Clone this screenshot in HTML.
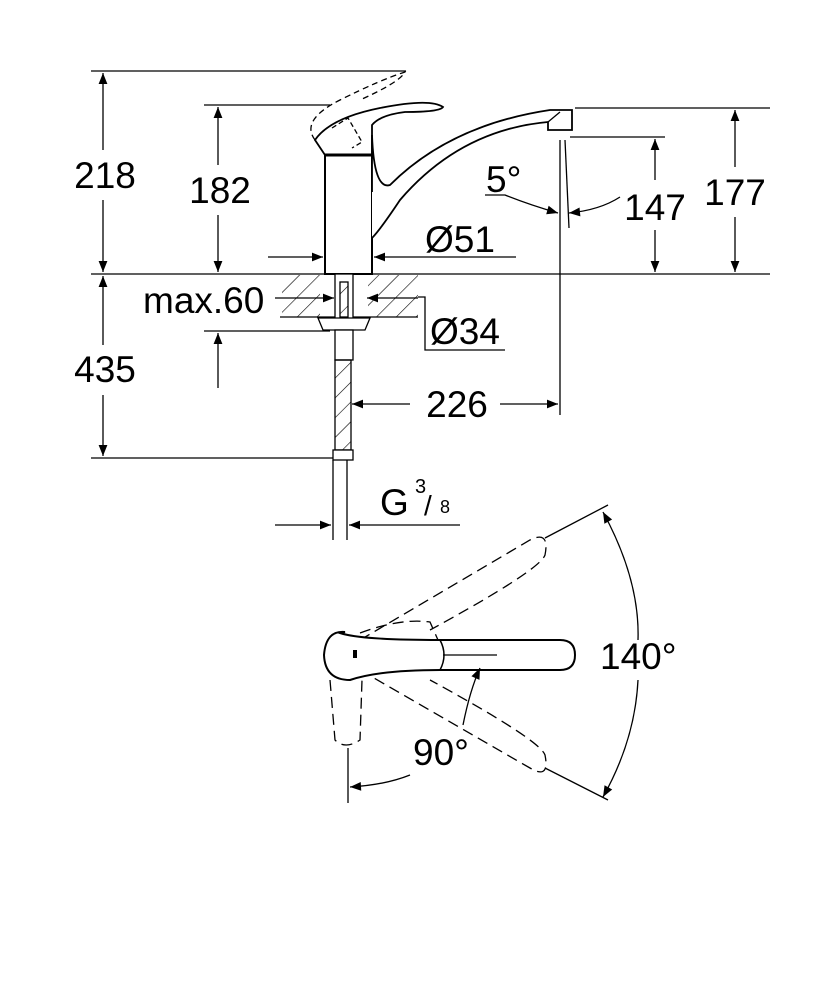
<!DOCTYPE html>
<html><head><style>body{margin:0;background:#fff}svg{display:block}text{font-family:"Liberation Sans",sans-serif;fill:#000}</style></head><body>
<svg width="834" height="1000" viewBox="0 0 834 1000" xmlns="http://www.w3.org/2000/svg">
<defs>
<marker id="a" viewBox="0 0 10 10" refX="10" refY="5" markerWidth="20" markerHeight="11" markerUnits="userSpaceOnUse" orient="auto-start-reverse"><path d="M0,1 L10,5 L0,9z" fill="#000"/></marker>
<pattern id="h" width="14" height="14" patternUnits="userSpaceOnUse" patternTransform="rotate(45)"><line x1="0" y1="0" x2="0" y2="14" stroke="#000" stroke-width="1.2"/></pattern>
</defs>
<g stroke="#000" stroke-width="1.3" fill="none">
<line x1="91" y1="71" x2="406" y2="71"/>
<line x1="204" y1="105" x2="330" y2="105"/>
<line x1="91" y1="274" x2="770" y2="274"/>
<line x1="575" y1="108" x2="770" y2="108"/>
<line x1="570" y1="137" x2="665" y2="137"/>
<line x1="91" y1="458" x2="352" y2="458"/>
<line x1="204" y1="331" x2="330" y2="331"/>
<line x1="103" y1="73" x2="103" y2="150" marker-start="url(#a)"/>
<line x1="103" y1="200" x2="103" y2="272" marker-end="url(#a)"/>
<line x1="218" y1="107" x2="218" y2="165" marker-start="url(#a)"/>
<line x1="218" y1="215" x2="218" y2="272" marker-end="url(#a)"/>
<line x1="103" y1="276" x2="103" y2="345" marker-start="url(#a)"/>
<line x1="103" y1="395" x2="103" y2="456" marker-end="url(#a)"/>
<line x1="218" y1="333" x2="218" y2="388" marker-start="url(#a)"/>
<line x1="655" y1="139" x2="655" y2="180" marker-start="url(#a)"/>
<line x1="655" y1="230" x2="655" y2="272" marker-end="url(#a)"/>
<line x1="735" y1="110" x2="735" y2="167" marker-start="url(#a)"/>
<line x1="735" y1="217" x2="735" y2="272" marker-end="url(#a)"/>
<line x1="560" y1="140" x2="560" y2="415"/>
<line x1="565" y1="140" x2="569" y2="228"/>
<line x1="352" y1="404" x2="410" y2="404" marker-start="url(#a)"/>
<line x1="500" y1="404" x2="558" y2="404" marker-end="url(#a)"/>
<path d="M485,195 L505,195 Q530,205 558,213" marker-end="url(#a)"/>
<path d="M620,197 Q600,210 569,213" marker-end="url(#a)"/>
<line x1="268" y1="257" x2="323" y2="257" marker-end="url(#a)"/>
<line x1="516" y1="257" x2="374" y2="257" marker-end="url(#a)"/>
<rect x="282" y="275" width="38" height="42" fill="url(#h)" stroke="none"/>
<rect x="368" y="275" width="50" height="42" fill="url(#h)" stroke="none"/>
<line x1="280" y1="317" x2="418" y2="317"/>
<line x1="275" y1="298" x2="334" y2="298" marker-end="url(#a)"/>
<line x1="418" y1="298" x2="367" y2="298" marker-end="url(#a)"/>
<polyline points="418,297 425,297 425,350 505,350"/>
<rect x="325" y="155" width="47" height="119" fill="#fff" stroke-width="2"/>
<line x1="325" y1="155" x2="372" y2="155" stroke-width="3"/>
<path d="M325,155 L315,140 Q330,118 380,108 Q430,98 443,107 Q440,112 405,112 Q380,115 372,125 L372,155" stroke-width="1.8"/>
<path d="M315,140 Q300,120 340,100 Q380,80 405,72 Q400,82 360,100" stroke-dasharray="6,4"/>
<path d="M332,128 L348,118 L362,142 L352,148" stroke-dasharray="5,3"/>
<path d="M372,192 L372,135 Q374,190 390,185 Q450,125 550,110 L572,110 L572,130 L548,130 L548,122 Q460,130 400,200 Q380,230 372,238" stroke-width="1.8" fill="#fff"/>
<line x1="548" y1="122" x2="560" y2="112"/>
<rect x="335" y="274" width="18" height="45" fill="#fff"/>
<rect x="340" y="282" width="8" height="35" fill="url(#h)"/>
<path d="M318,318 L370,318 L365,330 L323,330z" fill="#fff"/>
<rect x="335" y="330" width="18" height="30" fill="#fff"/>
<rect x="335" y="360" width="16" height="90" fill="url(#h)"/>
<rect x="333" y="450" width="20" height="10" fill="#fff"/>
<line x1="333" y1="460" x2="333" y2="540"/>
<line x1="347" y1="460" x2="347" y2="540"/>
<line x1="275" y1="525" x2="331" y2="525" marker-end="url(#a)"/>
<line x1="460" y1="525" x2="349" y2="525" marker-end="url(#a)"/>
<g stroke-dasharray="11,6">
<path d="M360,640 L530,540 Q550,530 545,555 Q540,570 430,630"/>
<path d="M360,670 L530,768 Q550,780 545,755 Q540,740 430,680"/>
<path d="M330,680 L335,740 Q345,750 360,740 L362,680"/>
<path d="M360,633 Q400,618 430,622 L438,640"/>
</g>
<path d="M340,633 Q360,640 440,640 L560,640 Q575,640 575,655 Q575,670 560,670 L440,670 Q380,670 350,680 Q325,680 324,655 Q326,630 345,632z" fill="#fff" stroke-width="2"/>
<path d="M440,640 Q448,655 440,670" stroke-width="1.5"/>
<line x1="443" y1="655" x2="497" y2="655"/>
<line x1="545" y1="538" x2="608" y2="505"/>
<line x1="545" y1="768" x2="608" y2="800"/>
<line x1="348" y1="748" x2="348" y2="803"/>
<path d="M603,512 Q640,580 638,640" marker-start="url(#a)"/>
<path d="M638,680 Q635,740 603,797" marker-end="url(#a)"/>
<path d="M463,725 Q470,690 480,668" marker-end="url(#a)"/>
<path d="M410,775 Q385,785 350,787" marker-end="url(#a)"/>
</g>
<rect x="353" y="650" width="4" height="8" fill="#000"/>
<g font-size="37">
<text x="105" y="188" text-anchor="middle">218</text>
<text x="220" y="203" text-anchor="middle">182</text>
<text x="105" y="382" text-anchor="middle">435</text>
<text x="655" y="220" text-anchor="middle">147</text>
<text x="735" y="205" text-anchor="middle">177</text>
<text x="457" y="417" text-anchor="middle">226</text>
<text x="425" y="252">Ø51</text>
<text x="143" y="313">max.60</text>
<text x="430" y="344">Ø34</text>
<text x="486" y="192">5°</text>
<text x="380" y="515">G</text>
<text x="600" y="669">140°</text>
<text x="413" y="765">90°</text>
</g>
<text x="415" y="493" font-size="20">3</text>
<text x="424" y="515" font-size="28">/</text>
<text x="440" y="513" font-size="18">8</text>
</svg>
</body></html>
